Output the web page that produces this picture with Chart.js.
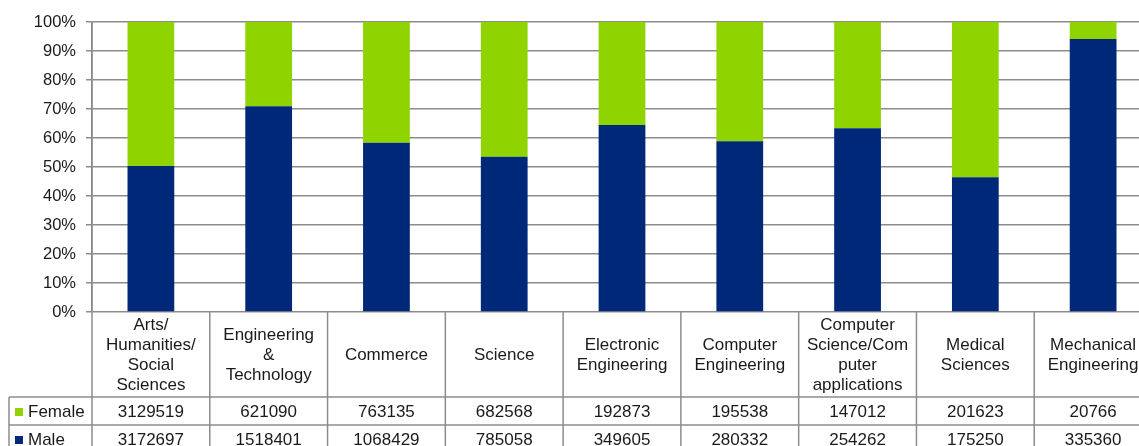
<!DOCTYPE html>
<html>
<head>
<meta charset="utf-8">
<script src="https://cdn.jsdelivr.net/npm/chart.js@4.4.1/dist/chart.umd.min.js"></script>
<style>
  html, body { margin: 0; padding: 0; background: #fff; overflow: hidden; }
  #wrap { position: relative; width: 1152px; height: 446px; }
</style>
</head>
<body>
<div id="wrap"><canvas id="genderChart"></canvas></div>
<script>
// Enrolment by discipline, split by gender
var categories = [
  ["Arts/", "Humanities/", "Social", "Sciences"],
  ["Engineering", "&", "Technology"],
  ["Commerce"],
  ["Science"],
  ["Electronic", "Engineering"],
  ["Computer", "Engineering"],
  ["Computer", "Science/Com", "puter", "applications"],
  ["Medical", "Sciences"],
  ["Mechanical", "Engineering"]
];
var female = [3129519, 621090, 763135, 682568, 192873, 195538, 147012, 201623, 20766];
var male = [3172697, 1518401, 1068429, 785058, 349605, 280332, 254262, 175250, 335360];
var yTicks = [0, 10, 20, 30, 40, 50, 60, 70, 80, 90, 100];

var femaleColor = "#8fd400";
var maleColor = "#002878";
var gridColor = "#8c8c8c";
var textColor = "#1a1a1a";
var font = "Liberation Sans, Arial, sans-serif";

// share of each gender per category, in percent
var totals = male.map(function (m, i) { return m + female[i]; });
var malePct = male.map(function (m, i) { return m / totals[i] * 100; });
var femalePct = female.map(function (f, i) { return f / totals[i] * 100; });

// data table under the plot: category header, then one row per series
var dataTable = {
  id: "dataTable",
  afterDraw: function (chart) {
    var ctx = chart.ctx;
    var area = chart.chartArea;
    var x = chart.scales.x;
    var step = x.getPixelForValue(1) - x.getPixelForValue(0);
    var top = area.bottom;
    var headBottom = top + 85;
    var rowH = 28;
    var rows = [
      { name: "Female", color: femaleColor, values: female },
      { name: "Male", color: maleColor, values: male }
    ];
    var bottom = headBottom + rowH * rows.length;

    ctx.save();
    ctx.strokeStyle = gridColor;
    ctx.lineWidth = 1.5;

    // horizontal rules
    for (var r = 0; r <= rows.length; r++) {
      var yy = headBottom + r * rowH;
      ctx.beginPath();
      ctx.moveTo(9, yy);
      ctx.lineTo(area.right, yy);
      ctx.stroke();
    }
    // left edge of the series-name column
    ctx.beginPath();
    ctx.moveTo(9, headBottom);
    ctx.lineTo(9, bottom);
    ctx.stroke();
    // category separators
    for (var i = 0; i <= categories.length; i++) {
      var xx = x.getPixelForValue(0) - step / 2 + i * step;
      ctx.beginPath();
      ctx.moveTo(xx, i === 0 ? area.top : top);
      ctx.lineTo(xx, bottom);
      ctx.stroke();
    }

    ctx.fillStyle = textColor;
    ctx.textAlign = "center";
    ctx.textBaseline = "middle";
    ctx.font = "17px " + font;

    // header labels
    var lineH = 20;
    categories.forEach(function (lines, i) {
      var cx = x.getPixelForValue(i);
      var cy = (top + headBottom) / 2 - (lines.length - 1) * lineH / 2;
      lines.forEach(function (t, k) {
        ctx.fillText(t, cx, cy + k * lineH + 1);
      });
    });

    // series rows
    rows.forEach(function (row, r) {
      var cy = headBottom + r * rowH + rowH / 2 + 1;
      ctx.fillStyle = row.color;
      ctx.fillRect(15, cy - 4, 8, 8);
      ctx.fillStyle = textColor;
      ctx.textAlign = "left";
      ctx.fillText(row.name, 28, cy);
      ctx.textAlign = "center";
      row.values.forEach(function (v, i) {
        ctx.fillText(String(v), x.getPixelForValue(i), cy);
      });
    });
    ctx.restore();
  }
};

var ctx = document.getElementById("genderChart").getContext("2d");

var chart = new Chart(ctx, {
  type: "bar",
  data: {
    labels: categories.map(function (c) { return c.join(" "); }),
    datasets: [
      {
        label: "Male",
        data: malePct,
        backgroundColor: maleColor,
        barPercentage: 0.397,
        categoryPercentage: 1
      },
      {
        label: "Female",
        data: femalePct,
        backgroundColor: femaleColor,
        barPercentage: 0.397,
        categoryPercentage: 1
      }
    ]
  },
  options: {
    responsive: true,
    maintainAspectRatio: false,
    animation: false,
    layout: { padding: { top: 22, bottom: 134, left: 0, right: 0 } },
    plugins: {
      legend: { display: false },
      tooltip: { enabled: false }
    },
    scales: {
      x: {
        display: false,
        stacked: true
      },
      y: {
        stacked: true,
        min: 0,
        max: 100,
        afterBuildTicks: function (scale) {
          scale.ticks = yTicks.map(function (v) { return { value: v }; });
        },
        afterFit: function (scale) { scale.width = 92; },
        grid: {
          color: gridColor,
          lineWidth: 1.5,
          tickLength: 6,
          tickColor: gridColor
        },
        border: { color: gridColor, width: 1.5 },
        ticks: {
          color: textColor,
          padding: 10,
          font: { family: font, size: 16.5 },
          callback: function (v) { return v + "%"; }
        }
      }
    }
  },
  plugins: [dataTable]
});
</script>
</body>
</html>
